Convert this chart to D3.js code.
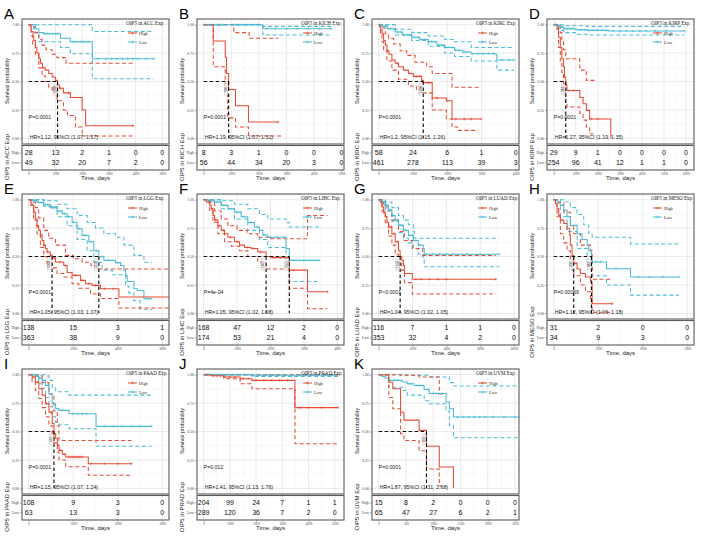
<!DOCTYPE html>
<html><head><meta charset="utf-8">
<script src="https://cdn.jsdelivr.net/npm/d3@7"></script>
<style>body{margin:0;background:#fff}svg{display:block}</style>
</head><body><svg id="c" width="701" height="536"></svg>
<script>
// ---------- ACC ----------
const accHigh=[[0,1],[60,0.98],[100,0.94],[160,0.9],[190,0.86],[250,0.8],[310,0.75],[380,0.7],[440,0.66],[520,0.62],[620,0.6],[750,0.57],[880,0.54],[1000,0.51],[1080,0.47],[1150,0.44],[1300,0.4],[1560,0.36],[2000,0.25],[2130,0.11],[3910,0.11]];
const accHighUp=[[0,1],[150,0.98],[250,0.93],[380,0.87],[500,0.82],[650,0.78],[880,0.74],[1060,0.71],[1400,0.66],[3910,0.66]];
const accHighLo=[[0,1],[90,0.9],[150,0.83],[250,0.74],[380,0.62],[500,0.55],[620,0.5],[750,0.45],[880,0.42],[1060,0.33],[1300,0.25],[1450,0.2],[1750,0.1],[2000,0.02],[3910,0.02]];
const accLow=[[0,1],[250,0.965],[380,0.93],[560,0.92],[1190,0.88],[1560,0.85],[2380,0.7],[4690,0.7]];
const accLowUp=[[0,1],[2380,0.94],[4690,0.94]];
const accLowLo=[[0,1],[200,0.93],[380,0.85],[1190,0.8],[1560,0.745],[2380,0.525],[4690,0.525]];
const accHighCens=[1190,1500,3910];
const accLowCens=[600,700,800,900,1000,1100,1650,1750,1850,1950,2050,2150,2250,2600,2900,3100,3300,3500,3700,3900,4100,4400,4690];
const accRiskHigh=[28,13,2,1,0,0], accRiskLow=[49,32,20,7,2,0];
const accTicks=[0,1000,2000,3000,4000,5000];
// ---------- KICH ----------
const kichHigh=[[0,1],[347,0.857],[782,0.714],[830,0.571],[906,0.429],[1154,0.286],[1626,0.143],[2705,0.143]];
const kichHighUp=[[0,1],[1092,0.93],[1650,0.88],[2705,0.88]];
const kichHighLo=[[0,1],[347,0.63],[782,0.4],[870,0.18],[1154,0.1],[1626,0.02],[2900,0.02]];
const kichLow=[[0,1],[2147,0.965],[4629,0.965]];
const kichLowUp=[[0,1],[2147,0.985],[4629,0.985]];
const kichLowLo=[[0,1],[2147,0.91],[4629,0.91]];
const kichHighCens=[2705];
const kichLowCens=[100,200,300,400,500,600,700,1100,1200,1300,1400,1500,1600,1700,1800,1900,2000,2300,2600,3000,3400,3800,4200,4629];
const kichRiskHigh=[8,3,1,0,0,0], kichRiskLow=[56,44,34,20,3,0];
const kichTicks=[0,1000,2000,3000,4000,5000];
// ---------- KIRC ----------
const kircHigh=[[0,1],[30,0.98],[60,0.95],[100,0.92],[145,0.86],[193,0.82],[241,0.77],[300,0.74],[386,0.69],[482,0.66],[578,0.63],[723,0.6],[868,0.57],[1012,0.545],[1253,0.51],[1300,0.49],[1562,0.355],[1976,0.33],[2140,0.17],[2988,0.17]];
const kircHighUp=[[0,1],[100,0.97],[193,0.92],[290,0.88],[434,0.83],[627,0.77],[820,0.73],[1060,0.67],[1400,0.63],[1562,0.57],[2140,0.45],[2988,0.45]];
const kircHighLo=[[0,1],[50,0.93],[100,0.85],[145,0.78],[241,0.68],[386,0.6],[578,0.52],[868,0.46],[1100,0.43],[1253,0.4],[1562,0.25],[1976,0.17],[2140,0.1],[2300,0.07],[2900,0.07]];
const kircLow=[[0,1],[100,0.985],[250,0.965],[482,0.935],[700,0.91],[964,0.89],[1200,0.87],[1446,0.85],[1700,0.82],[1928,0.8],[2217,0.775],[2450,0.76],[2699,0.745],[3422,0.735],[3450,0.69],[3950,0.69]];
const kircLowUp=[[0,1],[482,0.96],[964,0.93],[1446,0.9],[1928,0.87],[2217,0.85],[2699,0.8],[3950,0.8]];
const kircLowLo=[[0,1],[482,0.91],[964,0.86],[1446,0.81],[1928,0.75],[2217,0.72],[2699,0.68],[3450,0.6],[3950,0.6]];
const kircHighCens=[250,550,900,1100,1200,1450,1700,2000,2250,2500,2700,2988];
const kircLowCens=[50,150,200,300,350,450,550,650,750,850,950,1050,1150,1250,1350,1450,1550,1650,1750,1850,1950,2050,2150,2250,2350,2500,2600,2750,2900,3050,3200,3350,3600,3800,3950];
const kircRiskHigh=[58,24,6,1,0], kircRiskLow=[461,278,113,39,3];
const kircTicks=[0,1000,2000,3000,4000];
// ---------- KIRP ----------
const kirpHigh=[[0,1],[150,0.96],[220,0.89],[300,0.8],[370,0.7],[440,0.63],[490,0.54],[548,0.466],[600,0.42],[1185,0.36],[1333,0.305],[1481,0.246],[1629,0.17],[2592,0]];
const kirpHighUp=[[0,1],[296,0.93],[370,0.85],[444,0.78],[548,0.7],[1185,0.6],[1481,0.51],[1850,0.51]];
const kirpHighLo=[[0,1],[220,0.8],[300,0.68],[370,0.58],[444,0.48],[490,0.4],[548,0.32],[600,0.276],[1185,0.22],[1333,0.16],[1481,0.1],[1629,0.04],[1800,0.04]];
const kirpLow=[[0,1],[150,0.99],[300,0.98],[450,0.965],[1000,0.955],[1500,0.95],[2500,0.945],[5924,0.945]];
const kirpLowUp=[[0,1],[450,0.99],[1500,0.985],[5924,0.985]];
const kirpLowLo=[[0,1],[150,0.97],[300,0.95],[450,0.93],[1000,0.915],[1500,0.91],[5924,0.91]];
const kirpHighCens=[700,900,1700,2000];
const kirpLowCens=[50,100,200,250,350,400,500,600,700,800,900,1100,1200,1300,1400,1600,1800,2000,2200,2400,2700,3000,3300,3600,3900,4200,4600,5100,5924];
const kirpRiskHigh=[29,9,1,0,0,0,0], kirpRiskLow=[254,96,41,12,1,1,0];
const kirpTicks=[0,1000,2000,3000,4000,5000,6000];
// ---------- LGG ----------
const lggHigh=[[0,1],[100,0.97],[150,0.95],[225,0.89],[300,0.83],[375,0.77],[450,0.73],[525,0.69],[600,0.64],[675,0.6],[750,0.57],[825,0.54],[975,0.51],[1050,0.487],[1200,0.452],[1575,0.42],[1725,0.36],[1950,0.334],[2325,0.29],[2550,0.26],[2850,0.246],[3225,0.217],[4050,0.144],[6300,0.144]];
const lggHighUp=[[0,1],[150,0.98],[300,0.93],[450,0.84],[675,0.73],[900,0.66],[1200,0.6],[1650,0.51],[2000,0.48],[2400,0.45],[2800,0.42],[3100,0.39],[6300,0.39]];
const lggHighLo=[[0,1],[100,0.95],[225,0.82],[375,0.7],[525,0.58],[675,0.5],[825,0.44],[1050,0.4],[1275,0.35],[1575,0.32],[1950,0.26],[2250,0.22],[2775,0.17],[3225,0.13],[4050,0.047],[6300,0.047]];
const lggLow=[[0,1],[200,0.99],[375,0.975],[675,0.956],[975,0.93],[1275,0.9],[1500,0.877],[1725,0.85],[1950,0.8],[2175,0.745],[2400,0.686],[2700,0.63],[2925,0.55],[3150,0.5],[3375,0.466],[3900,0.446],[4125,0.42],[4275,0.38],[4350,0.334],[4425,0.28],[4725,0.217],[4875,0.2],[5175,0.129],[5550,0.129]];
const lggLowUp=[[0,1],[700,0.99],[1275,0.96],[1725,0.92],[2175,0.86],[2625,0.8],[3000,0.75],[3375,0.7],[3900,0.67],[4275,0.6],[4725,0.51],[5175,0.45],[5550,0.45]];
const lggLowLo=[[0,1],[675,0.94],[1275,0.85],[1725,0.77],[2175,0.65],[2625,0.55],[2925,0.45],[3300,0.38],[3750,0.34],[4350,0.24],[4500,0.18],[4725,0.11],[5000,0.035],[5550,0.035]];
const lggHighCens=[250,400,550,700,850,1000,1150,1400,1650,2100,2400,2700,3000,3400,3800];
const lggLowCens=[150,250,350,450,550,650,750,850,950,1050,1150,1250,1350,1450,1600,1800,2000,2250,2500,2800,3050,3300,3600,4000,5300,5450];
const lggRiskHigh=[138,15,3,1], lggRiskLow=[363,38,9,0];
const lggTicks=[0,2000,4000,6000];
// ---------- LIHC ----------
const lihcHigh=[[0,1],[79,0.98],[179,0.95],[228,0.92],[278,0.86],[328,0.82],[427,0.77],[526,0.73],[626,0.7],[725,0.67],[923,0.63],[1072,0.6],[1221,0.58],[1420,0.57],[1619,0.54],[1867,0.5],[2016,0.49],[2562,0.38],[3108,0.19],[3704,0.19]];
const lihcHighUp=[[0,1],[200,0.98],[328,0.9],[526,0.83],[725,0.77],[1000,0.73],[1300,0.7],[1619,0.67],[2016,0.657],[3108,0.86],[3704,0.86]];
const lihcHighLo=[[0,1],[179,0.9],[278,0.8],[427,0.7],[626,0.63],[826,0.59],[1072,0.55],[1321,0.5],[1619,0.45],[1867,0.39],[2562,0.22],[3108,0.04],[3704,0.04]];
const lihcLow=[[0,1],[150,0.99],[328,0.98],[526,0.95],[725,0.92],[923,0.89],[1122,0.85],[1321,0.8],[1519,0.76],[1668,0.73],[1768,0.69],[1917,0.67],[2463,0.57],[2562,0.466],[3456,0.466]];
const lihcLowUp=[[0,1],[526,0.99],[923,0.96],[1321,0.92],[1668,0.87],[1917,0.83],[2463,0.8],[2562,0.76],[3456,0.76]];
const lihcLowLo=[[0,1],[526,0.92],[923,0.83],[1321,0.73],[1668,0.65],[1917,0.58],[2463,0.46],[2562,0.28],[3456,0.28]];
const lihcHighCens=[150,250,350,450,600,800,1000,1300,1500,1700,2100,2300,2700,3704];
const lihcLowCens=[100,200,300,400,500,600,700,800,900,1000,1100,1200,1400,1600,1800,2000,2200,2400,2700,3000,3456];
const lihcRiskHigh=[168,47,12,2,0], lihcRiskLow=[174,53,21,4,0];
const lihcTicks=[0,1000,2000,3000,4000];
// ---------- LUAD ----------
const luadHigh=[[0,1],[98,0.98],[195,0.935],[293,0.89],[390,0.85],[488,0.8],[585,0.76],[780,0.7],[975,0.63],[1170,0.55],[1268,0.5],[1365,0.466],[1463,0.42],[1521,0.35],[1989,0.3],[6923,0.3]];
const luadHighUp=[[0,1],[293,0.96],[488,0.9],[780,0.82],[1170,0.72],[1521,0.64],[1989,0.57],[2600,0.51],[6923,0.51]];
const luadHighLo=[[0,1],[195,0.9],[390,0.79],[585,0.68],[780,0.6],[975,0.52],[1170,0.45],[1365,0.38],[1521,0.27],[1989,0.17],[6923,0.17]];
const luadLow=[[0,1],[195,0.98],[390,0.95],[585,0.906],[780,0.86],[975,0.82],[1170,0.774],[1463,0.73],[1755,0.686],[2048,0.64],[2340,0.6],[2633,0.57],[2691,0.52],[7118,0.52]];
const luadLowUp=[[0,1],[390,0.98],[780,0.93],[1170,0.86],[1463,0.82],[1755,0.78],[2048,0.72],[2100,0.66],[7118,0.66]];
const luadLowLo=[[0,1],[390,0.91],[780,0.81],[1170,0.71],[1463,0.66],[1755,0.62],[2048,0.57],[2340,0.52],[2633,0.47],[2691,0.41],[7118,0.41]];
const luadHighCens=[150,300,450,600,750,900,1100,1300,2200,2500,3000,3500,4000,6923];
const luadLowCens=[100,200,300,400,500,600,700,800,900,1000,1100,1200,1300,1400,1500,1600,1800,2000,2200,2400,2800,3200,3600,4000,4400,5200,6000,7118];
const luadRiskHigh=[116,7,1,1,0], luadRiskLow=[353,32,4,2,0];
const luadTicks=[0,2000,4000,6000,8000];
// ---------- MESO ----------
const mesoHigh=[[0,1],[38,0.965],[75,0.92],[113,0.86],[150,0.82],[225,0.79],[300,0.745],[360,0.69],[375,0.6],[413,0.51],[450,0.44],[525,0.39],[600,0.35],[713,0.32],[825,0.276],[863,0.085],[1313,0.085]];
const mesoHighUp=[[0,1],[113,0.97],[225,0.89],[375,0.77],[450,0.7],[600,0.6],[825,0.55],[863,0.3],[1313,0.3]];
const mesoHighLo=[[0,1],[75,0.85],[150,0.7],[225,0.62],[300,0.55],[375,0.45],[413,0.38],[450,0.33],[600,0.25],[713,0.19],[825,0.13],[863,0.01],[1313,0.01]];
const mesoLow=[[0,1],[75,0.98],[150,0.95],[225,0.906],[300,0.85],[375,0.774],[525,0.7],[638,0.65],[750,0.6],[788,0.55],[848,0.49],[863,0.452],[1185,0.393],[1725,0.32],[2813,0.32]];
const mesoLowUp=[[0,1],[225,0.98],[375,0.93],[525,0.87],[675,0.78],[788,0.7],[863,0.67],[1725,0.61],[2813,0.61]];
const mesoLowLo=[[0,1],[150,0.85],[300,0.72],[525,0.57],[750,0.46],[863,0.33],[1185,0.25],[1725,0.16],[2813,0.16]];
const mesoHighCens=[500,1313];
const mesoLowCens=[950,1050,1400,1900,2150,2450,2813];
const mesoRiskHigh=[31,2,0,0], mesoRiskLow=[34,9,3,0];
const mesoTicks=[0,1000,2000,3000];
// ---------- PAAD ----------
const paadHigh=[[0,1],[76,0.98],[151,0.935],[227,0.877],[302,0.82],[378,0.745],[454,0.67],[529,0.57],[567,0.48],[605,0.44],[643,0.38],[680,0.334],[756,0.3],[832,0.276],[1338,0.217],[2306,0.217]];
const paadHighUp=[[0,1],[151,0.99],[302,0.93],[454,0.83],[567,0.68],[643,0.55],[680,0.42],[2306,0.42]];
const paadHighLo=[[0,1],[76,0.94],[151,0.86],[227,0.79],[302,0.71],[378,0.63],[454,0.55],[529,0.46],[567,0.4],[643,0.32],[680,0.25],[832,0.19],[1338,0.115],[2306,0.115]];
const paadLow=[[0,1],[151,0.985],[227,0.97],[302,0.95],[378,0.906],[454,0.833],[529,0.745],[605,0.7],[680,0.686],[907,0.657],[1512,0.545],[2759,0.545]];
const paadLowUp=[[0,1],[378,0.99],[454,0.95],[529,0.89],[605,0.85],[907,0.82],[2759,0.82]];
const paadLowLo=[[0,1],[227,0.92],[302,0.88],[378,0.8],[454,0.72],[529,0.63],[605,0.58],[680,0.56],[907,0.525],[1512,0.37],[2759,0.37]];
const paadHighCens=[100,200,300,400,500,700,800,900,950,1000,1050,1100,1150,1200,1400,1700,2000,2306];
const paadLowCens=[80,150,250,350,450,650,750,1000,1100,1200,1300,1700,1900,2100,2300,2500,2759];
const paadRiskHigh=[108,9,3,0], paadRiskLow=[63,13,3,0];
const paadTicks=[0,1000,2000,3000];
// ---------- PRAD ----------
const pradHigh=[[0,1],[300,0.99],[760,0.98],[1393,0.965],[1836,0.95],[3482,0.71],[5127,0.71]];
const pradHighUp=[[0,1],[5127,1]];
const pradHighLo=[[0,1],[760,0.965],[1393,0.92],[1836,0.877],[3482,0.393],[5127,0.393]];
const pradLow=[[0,1],[1836,0.995],[5127,0.995]];
const pradLowUp=[[0,1],[5127,1]];
const pradLowLo=[[0,1],[1836,0.985],[5127,0.985]];
const pradHighCens=[100,200,350,500,650,800,1000,1200,1500,1700,2000,2300,2600,2900,3200,3700,4000,4500,5127];
const pradLowCens=[50,150,250,350,450,550,650,750,850,950,1100,1250,1400,1550,1700,1900,2100,2300,2500,2800,3100,3400,3700,4000,4300];
const pradRiskHigh=[204,99,24,7,1,1], pradRiskLow=[289,120,36,7,2,0];
const pradTicks=[0,1000,2000,3000,4000,5000];
// ---------- UVM ----------
const uvmHigh=[[0,1],[185,0.933],[259,0.877],[401,0.67],[463,0.6],[740,0.51],[876,0.37],[1111,0.188],[1370,0]];
const uvmHighUp=[[0,1],[401,0.995],[740,0.98],[1111,0.83],[1200,0.83]];
const uvmHighLo=[[0,1],[185,0.8],[259,0.7],[401,0.48],[463,0.42],[740,0.33],[876,0.17],[1111,0.02],[1150,0.02]];
const uvmLow=[[0,1],[60,0.985],[120,0.97],[185,0.95],[432,0.935],[524,0.92],[650,0.905],[833,0.87],[925,0.835],[1234,0.76],[1296,0.7],[1370,0.628],[2600,0.628]];
const uvmLowUp=[[0,1],[524,0.995],[925,0.98],[1296,0.93],[1370,0.9],[2600,0.9]];
const uvmLowLo=[[0,1],[185,0.89],[432,0.86],[524,0.82],[833,0.77],[925,0.745],[1234,0.68],[1296,0.55],[1370,0.445],[2600,0.445]];
const uvmHighCens=[];
const uvmLowCens=[300,350,550,600,700,750,800,900,1000,1050,1100,1150,1450,1550,1650,1750,1850,1950,2100,2300,2500];
const uvmRiskHigh=[15,8,2,0,0,0], uvmRiskLow=[65,47,27,6,2,1];
const uvmTicks=[0,500,1000,1500,2000,2500];

const letters=['A','B','C','D','E','F','G','H','I','J','K'];
const cancers=['ACC','KICH','KIRC','KIRP','LGG','LIHC','LUAD','MESO','PAAD','PRAD','UVM'];
const xMaxes=[5000,4850,3900,6060,6000,4000,7900,3000,3000,5100,2450];
const pTexts=['P=0.0001','P=0.0001','P=0.0001','P=0.0001','P=0.0001','P=4e-04','P<0.0001','P=0.00069','P=0.0001','P=0.012','P=0.0001'];
const hrTexts=['HR=1.12, 95%CI (1.07, 1.17)','HR=1.19, 95%CI (1.07, 1.31)','HR=1.2, 95%CI (1.15, 1.26)','HR=1.27, 95%CI (1.19, 1.35)','HR=1.05, 95%CI (1.03, 1.07)','HR=1.05, 95%CI (1.02, 1.08)','HR=1.04, 95%CI (1.02, 1.05)','HR=1.12, 95%CI (1.06, 1.18)','HR=1.15, 95%CI (1.07, 1.24)','HR=1.41, 95%CI (1.13, 1.76)','HR=1.87, 95%CI (1.31, 2.68)'];

const mk=(hi,hu,hl,lo,lu,ll,hc,lc,rh,rl,tk)=>({hi,hu,hl,lo,lu,ll,hc,lc,rh,rl,tk});
const sets=[
 mk(accHigh,accHighUp,accHighLo,accLow,accLowUp,accLowLo,accHighCens,accLowCens,accRiskHigh,accRiskLow,accTicks),
 mk(kichHigh,kichHighUp,kichHighLo,kichLow,kichLowUp,kichLowLo,kichHighCens,kichLowCens,kichRiskHigh,kichRiskLow,kichTicks),
 mk(kircHigh,kircHighUp,kircHighLo,kircLow,kircLowUp,kircLowLo,kircHighCens,kircLowCens,kircRiskHigh,kircRiskLow,kircTicks),
 mk(kirpHigh,kirpHighUp,kirpHighLo,kirpLow,kirpLowUp,kirpLowLo,kirpHighCens,kirpLowCens,kirpRiskHigh,kirpRiskLow,kirpTicks),
 mk(lggHigh,lggHighUp,lggHighLo,lggLow,lggLowUp,lggLowLo,lggHighCens,lggLowCens,lggRiskHigh,lggRiskLow,lggTicks),
 mk(lihcHigh,lihcHighUp,lihcHighLo,lihcLow,lihcLowUp,lihcLowLo,lihcHighCens,lihcLowCens,lihcRiskHigh,lihcRiskLow,lihcTicks),
 mk(luadHigh,luadHighUp,luadHighLo,luadLow,luadLowUp,luadLowLo,luadHighCens,luadLowCens,luadRiskHigh,luadRiskLow,luadTicks),
 mk(mesoHigh,mesoHighUp,mesoHighLo,mesoLow,mesoLowUp,mesoLowLo,mesoHighCens,mesoLowCens,mesoRiskHigh,mesoRiskLow,mesoTicks),
 mk(paadHigh,paadHighUp,paadHighLo,paadLow,paadLowUp,paadLowLo,paadHighCens,paadLowCens,paadRiskHigh,paadRiskLow,paadTicks),
 mk(pradHigh,pradHighUp,pradHighLo,pradLow,pradLowUp,pradLowLo,pradHighCens,pradLowCens,pradRiskHigh,pradRiskLow,pradTicks),
 mk(uvmHigh,uvmHighUp,uvmHighLo,uvmLow,uvmLowUp,uvmLowLo,uvmHighCens,uvmLowCens,uvmRiskHigh,uvmRiskLow,uvmTicks)
];

const RED='#E64B35', BLUE='#4DBBD5';
const SANS='"Liberation Sans", Arial, sans-serif', SERIF='"Liberation Serif", "Times New Roman", serif';
const svg=d3.select('#c');
svg.append('rect').attr('width',701).attr('height',536).attr('fill','#fff');

function sAt(arr,t){let s=arr[0][1];for(const d of arr){if(d[0]<=t)s=d[1];else break;}return s;}
function median(arr){const d=arr.find(d=>d[1]<=0.5);return d?d[0]:null;}

sets.forEach((p,i)=>{
  const col=i%4,row=Math.floor(i/4);
  const g=svg.append('g').attr('transform',`translate(${col*175},${row*175})`);
  const L=22,R=169,T=19,B=144,TT=145.5,TB=170;
  const M=xMaxes[i];
  const x=d3.scaleLinear().domain([-0.05*M,1.05*M]).range([L,R]);
  const y=d3.scaleLinear().domain([-0.05,1.05]).range([B,T]);
  const tk=p.tk, stp=tk[1]-tk[0];
  const minorX=[];
  tk.forEach(t=>{[t-stp/2,t+stp/2].forEach(m=>{if(x(m)>L&&x(m)<R&&!minorX.includes(m))minorX.push(m);});});
  const majY=[0,0.25,0.5,0.75,1];
  const gg=g.append('g');
  [[T,B],[TT,TB]].forEach(([a,b])=>{
    gg.selectAll(null).data(minorX).enter().append('line').attr('x1',d=>x(d)).attr('x2',d=>x(d)).attr('y1',a).attr('y2',b).attr('stroke','#ececec').attr('stroke-width',0.35);
    gg.selectAll(null).data(tk.filter(t=>x(t)<=R)).enter().append('line').attr('x1',d=>x(d)).attr('x2',d=>x(d)).attr('y1',a).attr('y2',b).attr('stroke','#e3e3e3').attr('stroke-width',0.7);
  });
  gg.selectAll(null).data([0.125,0.375,0.625,0.875]).enter().append('line').attr('x1',L).attr('x2',R).attr('y1',d=>y(d)).attr('y2',d=>y(d)).attr('stroke','#ececec').attr('stroke-width',0.35);
  gg.selectAll(null).data(majY).enter().append('line').attr('x1',L).attr('x2',R).attr('y1',d=>y(d)).attr('y2',d=>y(d)).attr('stroke','#e3e3e3').attr('stroke-width',0.7);

  const cid='clip'+i;
  g.append('clipPath').attr('id',cid).append('rect').attr('x',L).attr('y',T).attr('width',R-L).attr('height',B-T);
  const cg=g.append('g').attr('clip-path',`url(#${cid})`);
  const line=d3.line().curve(d3.curveStepAfter).x(d=>x(d[0])).y(d=>y(d[1]));
  const draw=(arr,c,dash,w)=>cg.append('path').attr('d',line(arr)).attr('fill','none').attr('stroke',c).attr('stroke-width',w).attr('stroke-dasharray',dash);
  draw(p.lu,BLUE,'4,2.6',1.05); draw(p.ll,BLUE,'4,2.6',1.05);
  draw(p.hu,RED,'4,2.6',1.05); draw(p.hl,RED,'4,2.6',1.05);
  draw(p.lo,BLUE,null,1.05); draw(p.hi,RED,null,1.05);
  const cross='M-1.4,0H1.4M0,-1.4V1.4';
  [[p.lc,p.lo,BLUE],[p.hc,p.hi,RED]].forEach(([cs,arr,c])=>{
    cg.selectAll(null).data(cs).enter().append('path').attr('d',cross)
      .attr('transform',t=>`translate(${x(t)},${y(sAt(arr,t))})`).attr('stroke',c).attr('stroke-width',0.55).attr('fill','none');
  });
  const meds=[median(p.hi),median(p.lo)].filter(m=>m!==null);
  if(meds.length){
    const mx=d3.max(meds);
    cg.append('line').attr('x1',x(0)).attr('x2',x(mx)).attr('y1',y(0.5)).attr('y2',y(0.5)).attr('stroke','#000').attr('stroke-width',1.1).attr('stroke-dasharray','3.5,2.5');
    meds.forEach(m=>{
      cg.append('line').attr('x1',x(m)).attr('x2',x(m)).attr('y1',y(0.5)).attr('y2',y(0)).attr('stroke','#000').attr('stroke-width',1.1).attr('stroke-dasharray','3.5,2.5');
      const lg=cg.append('g').attr('transform',`translate(${x(m)-2.6},${y(0.43)}) rotate(-90)`);
      lg.append('rect').attr('x',-5.5).attr('y',-1.8).attr('width',11).attr('height',3.6).attr('fill','#f2f2f2').attr('stroke','#aaa').attr('stroke-width',0.3);
      lg.append('text').attr('text-anchor','middle').attr('dominant-baseline','central').attr('font-family',SANS).attr('font-size',3.2).attr('fill','#555').text(Math.round(m));
    });
  }
  g.append('text').attr('x',x(0)).attr('y',y(0.19)).attr('dominant-baseline','central').attr('font-family',SANS).attr('font-size',5.2).attr('fill','#222').text(pTexts[i]);
  g.append('text').attr('x',x(0)+1).attr('y',y(0.015)).attr('dominant-baseline','central').attr('font-family',SANS).attr('font-size',5.3).attr('fill','#222').text(hrTexts[i]);
  const lt=g.append('text').attr('x',L+104).attr('y',25).attr('font-family',SERIF).attr('font-size',5.1).attr('fill','#222');
  lt.append('tspan').attr('font-style','italic').text('OIP5');
  lt.append('tspan').text(' in '+cancers[i]+' Exp');
  [['High',RED,33],['Low',BLUE,42]].forEach(([lab,c,yy])=>{
    g.append('line').attr('x1',L+106).attr('x2',L+115).attr('y1',yy).attr('y2',yy).attr('stroke',c).attr('stroke-width',1.05);
    g.append('path').attr('d',cross).attr('transform',`translate(${L+110.5},${yy})`).attr('stroke',c).attr('stroke-width',0.6);
    g.append('text').attr('x',L+117).attr('y',yy).attr('dominant-baseline','central').attr('font-family',SERIF).attr('font-size',4.4).attr('fill','#222').text(lab);
  });
  g.append('rect').attr('x',L).attr('y',T).attr('width',R-L).attr('height',B-T).attr('fill','none').attr('stroke','#5a5a5a').attr('stroke-width',1.1);
  g.append('rect').attr('x',L).attr('y',TT).attr('width',R-L).attr('height',TB-TT).attr('fill','none').attr('stroke','#5a5a5a').attr('stroke-width',1.1);
  const ya=g.append('g').attr('transform',`translate(${L-0.5},0)`).call(d3.axisLeft(y).tickValues(majY).tickFormat(d3.format('.2f')).tickSize(1.5).tickPadding(1));
  ya.select('.domain').remove();
  ya.selectAll('line').attr('stroke','#444').attr('stroke-width',0.5);
  ya.selectAll('text').attr('font-family',SERIF).attr('font-size',3.8).attr('fill','#444');
  const ry=d3.scalePoint().domain(['High','Low']).range([152.6,162.4]);
  const ra=g.append('g').attr('transform',`translate(${L-0.5},0)`).call(d3.axisLeft(ry).tickSize(1.5).tickPadding(1));
  ra.select('.domain').remove();
  ra.selectAll('line').attr('stroke','#444').attr('stroke-width',0.5);
  ra.selectAll('text').attr('font-family',SERIF).attr('font-size',3.8).attr('fill','#444');
  [['High',p.rh],['Low',p.rl]].forEach(([k,vals])=>{
    g.selectAll(null).data(vals).enter().append('text').attr('x',(d,j)=>x(tk[j])).attr('y',ry(k)).attr('text-anchor','middle').attr('dominant-baseline','central')
      .attr('font-family',SANS).attr('font-size',7).attr('fill','#111').text(d=>d);
  });
  const xa=g.append('g').attr('transform',`translate(0,${TB+0.5})`).call(d3.axisBottom(x).tickValues(tk).tickFormat(d3.format('d')).tickSize(1.2).tickPadding(0.4));
  xa.select('.domain').remove();
  xa.selectAll('line').attr('stroke','#444').attr('stroke-width',0.5);
  xa.selectAll('text').attr('font-family',SERIF).attr('font-size',3.4).attr('fill','#444');
  g.append('text').attr('transform',`translate(7,81) rotate(-90)`).attr('text-anchor','middle').attr('dominant-baseline','central').attr('font-family',SANS).attr('font-size',5.5).attr('fill','#222').text('Survival probability');
  g.append('text').attr('transform',`translate(7,157) rotate(-90)`).attr('text-anchor','middle').attr('dominant-baseline','central').attr('font-family',SANS).attr('font-size',6).attr('fill','#222').text(`OIP5 in ${cancers[i]} Exp`);
  g.append('text').attr('x',(L+R)/2).attr('y',180.3).attr('text-anchor','middle').attr('font-family',SANS).attr('font-size',6).attr('fill','#222').text('Time, days');
  g.append('text').attr('x',4).attr('y',19).attr('font-family',SANS).attr('font-size',15).attr('fill','#000').text(letters[i]);
});
</script>
</body></html>
